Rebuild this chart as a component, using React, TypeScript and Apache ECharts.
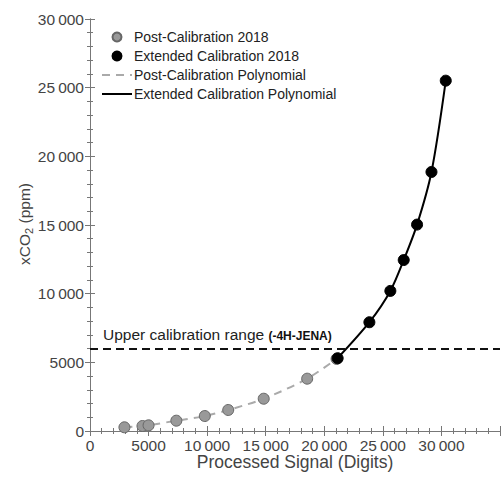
import React, { useEffect, useRef } from "react";
import * as echarts from "echarts";

const postCalX = [2940, 4480, 5000, 7370, 9800, 11800, 14830, 18540, 21050];
const postCalY = [270, 364, 415, 750, 1090, 1530, 2350, 3810, 5250];
const extCalX = [21140, 23850, 25640, 26780, 27920, 29150, 30370];
const extCalY = [5300, 7920, 10200, 12450, 15030, 18860, 25510];
const upperRange = 6000;
const xTicks = [0, 5000, 10000, 15000, 20000, 25000, 30000];
const yTicks = [0, 5000, 10000, 15000, 20000, 25000, 30000];

const fmt = (v: number) => {
  if (v < 10000) return String(v);
  const s = String(v);
  return s.slice(0, s.length - 3) + "\u2009" + s.slice(s.length - 3);
};

const FONT = "Liberation Sans, Arial, sans-serif";
const AX = "#777";
const LBL = "#444";

export default function App() {
  const ref = useRef<HTMLDivElement>(null);
  useEffect(() => {
    document.body.style.margin = "0";
    if (!ref.current) return;
    const chart = echarts.init(ref.current, null, { renderer: "svg" });
    const pc = postCalX.map((x, i) => [x, postCalY[i]]);
    const ec = extCalX.map((x, i) => [x, extCalY[i]]);
    const baseAxis = {
      axisLine: { show: true, lineStyle: { color: AX, width: 1 } },
      axisTick: { show: true, inside: true, length: 5, lineStyle: { color: AX } },
      minorTick: { show: true, splitNumber: 5, length: 3, lineStyle: { color: AX } },
      splitLine: { show: false },
    };
    const hidden = { color: "transparent", borderColor: "transparent", borderWidth: 0 };
    chart.setOption({
      animation: false,
      grid: { left: 90, top: 19, right: 1, bottom: 46, outerBoundsMode: "none", containLabel: false },
      legend: {
        orient: "vertical",
        left: 96,
        top: 25,
        itemWidth: 30,
        itemHeight: 9,
        itemGap: 5,
        textStyle: { fontFamily: FONT, fontSize: 14, color: "#222", padding: [0, 0, 0, -3] },
        data: [
          "Post-Calibration 2018",
          "Extended Calibration 2018",
          { name: "Post-Calibration Polynomial", itemStyle: hidden },
          { name: "Extended Calibration Polynomial", itemStyle: hidden },
        ],
      },
      xAxis: [
        {
          ...baseAxis,
          type: "value",
          min: 0,
          max: 35000,
          interval: 5000,
          position: "bottom",
          name: "Processed Signal (Digits)",
          nameLocation: "middle",
          nameGap: 22,
          nameMoveOverlap: false,
          nameTextStyle: { fontFamily: FONT, fontSize: 17.5, color: LBL },
          axisLabel: {
            fontFamily: FONT,
            fontSize: 15.5,
            color: LBL,
            margin: 6,
            formatter: (v: number) => (xTicks.includes(v) ? fmt(v) : ""),
          },
        },
        {
          ...baseAxis,
          type: "value",
          min: 0,
          max: 35000,
          interval: 5000,
          position: "top",
          axisLabel: { show: false },
        },
      ],
      yAxis: [
        {
          ...baseAxis,
          type: "value",
          min: 0,
          max: 30000,
          interval: 5000,
          position: "left",
          axisLabel: {
            fontFamily: FONT,
            fontSize: 15.5,
            color: LBL,
            margin: 6,
            formatter: (v: number) => (yTicks.includes(v) ? fmt(v) : ""),
          },
        },
        {
          ...baseAxis,
          type: "value",
          min: 0,
          max: 30000,
          interval: 5000,
          position: "right",
          axisLabel: { show: false },
        },
      ],
      series: [
        {
          name: "Post-Calibration Polynomial",
          type: "line",
          data: pc,
          smooth: 0.3,
          symbol: "none",
          lineStyle: { color: "#aaa", width: 2, type: [8, 6] },
          itemStyle: { color: "#aaa" },
          z: 2,
          markLine: {
            silent: true,
            symbol: "none",
            label: { show: false },
            lineStyle: { color: "#111", width: 2, type: [8, 5] },
            data: [{ yAxis: upperRange }],
          },
        },
        {
          name: "Extended Calibration Polynomial",
          type: "line",
          data: ec,
          smooth: 0.3,
          symbol: "none",
          lineStyle: { color: "#000", width: 2 },
          itemStyle: { color: "#000" },
          z: 3,
        },
        {
          name: "Post-Calibration 2018",
          type: "scatter",
          data: pc,
          symbolSize: 11,
          itemStyle: { color: "#999", borderColor: "#666", borderWidth: 1, opacity: 1 },
          z: 4,
        },
        {
          name: "Extended Calibration 2018",
          type: "scatter",
          data: ec,
          symbolSize: 11,
          itemStyle: { color: "#000", borderColor: "#000", borderWidth: 1, opacity: 1 },
          z: 5,
        },
      ],
      graphic: [
        {
          type: "text",
          left: 103,
          top: 326,
          style: {
            text: "Upper calibration range {b|(-4H-JENA)}",
            fontFamily: FONT,
            fontSize: 15.5,
            fill: "#222",
            rich: { b: { fontFamily: FONT, fontSize: 12, fontWeight: "bold", fill: "#111", padding: [3, 0, 0, 0] } },
          },
        },
        {
          type: "text",
          x: 24,
          y: 224,
          rotation: Math.PI / 2,
          style: {
            text: "xCO{s|2} (ppm)",
            fontFamily: FONT,
            fontSize: 15.5,
            fill: LBL,
            align: "center",
            verticalAlign: "middle",
            rich: { s: { fontFamily: FONT, fontSize: 11, fill: LBL, padding: [9, 0, 0, 0] } },
          },
        },
      ],
    });
    return () => chart.dispose();
  }, []);
  return <div ref={ref} style={{ width: 501, height: 477 }} />;
}
